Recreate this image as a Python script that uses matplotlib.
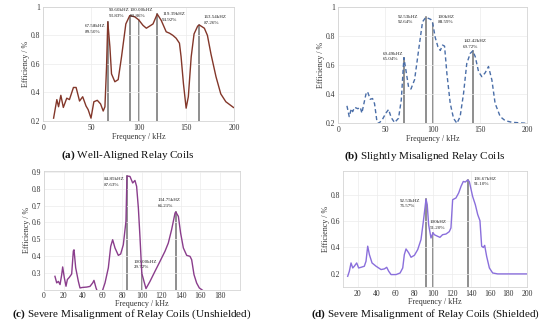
import numpy as np
import matplotlib
matplotlib.use("Agg")
import matplotlib.pyplot as plt

plt.rcParams['font.family'] = ['Liberation Serif', 'DejaVu Serif']
plt.rcParams['mathtext.fontset'] = 'custom'
plt.rcParams['mathtext.bf'] = 'Liberation Serif:bold'
plt.rcParams['mathtext.rm'] = 'Liberation Serif'

# ---- (a) well-aligned ----
fa = [10.8, 14.2, 16, 18.4, 21, 24.6, 27.4, 31.6, 34.4, 38, 41.3, 44.8, 47, 50, 53, 56.6, 60,
      62.8, 64.6, 66.3, 67.58, 69.8, 71.5, 75, 78.5, 82, 86.5, 90.6, 95.8, 100, 104.5, 108,
      111.5, 115, 119.39, 123.6, 128.8, 132.3, 135.8, 139.2, 142.7, 144.4, 146.9, 149.7, 152,
      155, 158, 161.8, 163.54, 168.8, 172, 175.7, 181, 186, 191.3, 199.3]
ea = [0.22, 0.35, 0.30, 0.38, 0.295, 0.36, 0.35, 0.435, 0.435, 0.34, 0.37, 0.305, 0.28, 0.22,
      0.335, 0.345, 0.32, 0.27, 0.30, 0.58, 0.895, 0.72, 0.53, 0.475, 0.49, 0.65, 0.88, 0.9383,
      0.93, 0.9086, 0.87, 0.85, 0.865, 0.88, 0.9492, 0.905, 0.825, 0.815, 0.80, 0.78, 0.745,
      0.65, 0.46, 0.29, 0.37, 0.65, 0.81, 0.865, 0.8726, 0.85, 0.80, 0.67, 0.51, 0.39, 0.335, 0.295]
pk_fa = [67.58, 90.60, 100.00, 119.39, 163.54]
pk_ea = [0.8950, 0.9383, 0.9086, 0.9492, 0.8726]
lab_a = ["67.58kHZ\n89.50%", "90.60kHZ\n93.83%", "100.00kHZ\n90.86%", "119.39kHZ\n94.92%", "163.54kHZ\n87.26%"]
lab_a_pos = [(43.7, 0.844), (68.3, 0.956), (90.3, 0.956), (124.6, 0.928), (168.3, 0.907)]

# ---- (b) slightly misaligned ----
fb = [9.2, 11.6, 13.8, 15.2, 17.3, 20.8, 23.3, 25, 26.8, 29.3, 31, 33.9, 36.3, 38.4, 41, 42.7,
      46.2, 50.4, 53.3, 56, 59.6, 63.8, 66.7, 69.49, 71.6, 74.4, 76.9, 80.8, 85, 89.2, 92.53,
      95.6, 98, 100, 102.6, 105.5, 108, 110.4, 112.5, 115, 118.5, 122, 125.6, 129, 132.6, 136,
      139.7, 142.42, 145, 148.5, 152, 155.5, 159, 162.6, 166, 171.4, 176.7, 183.8, 199.6]
eb = [0.32, 0.246, 0.30, 0.28, 0.31, 0.30, 0.31, 0.27, 0.325, 0.40, 0.417, 0.365, 0.37, 0.335,
      0.21, 0.20, 0.22, 0.27, 0.295, 0.24, 0.205, 0.235, 0.36, 0.6504, 0.565, 0.45, 0.435, 0.50,
      0.70, 0.897, 0.9264, 0.92, 0.913, 0.8859, 0.79, 0.725, 0.70, 0.737, 0.73, 0.54, 0.337,
      0.234, 0.20, 0.246, 0.405, 0.61, 0.68, 0.6972, 0.657, 0.554, 0.52, 0.547, 0.59, 0.497,
      0.337, 0.246, 0.218, 0.207, 0.20]
pk_fb = [69.49, 92.53, 100.0, 142.42]
pk_eb = [0.6504, 0.9264, 0.8859, 0.6972]
lab_b = ["69.49kHZ\n65.04%", "92.53kHZ\n92.64%", "100kHZ\n88.59%", "142.42kHZ\n69.72%"]
lab_b_pos = [(47.6, 0.66), (63.5, 0.912), (104.8, 0.912), (132.3, 0.743)]

# ---- (c) severe misalignment, unshielded ----
fc = [11.2, 13, 14.7, 16.4, 18.1, 19.1, 20.8, 22.5, 23.9, 25.9, 28.3, 30, 30.7, 32.4, 35.1,
      36.8, 39.5, 43.6, 47, 49.8, 51.1, 53.2, 54.5, 59, 62.4, 65.8, 68.2, 70.2, 72.6, 76, 78.4,
      81.1, 83.8, 84.85, 87.9, 90.7, 93, 94.7, 96.5, 98.2, 100, 102.2, 104.3, 108.4, 113.5,
      118.6, 123.7, 127.1, 130.5, 134, 134.75, 137.4, 139.7, 142.5, 145.9, 149.3, 151, 153.4,
      156.1, 158.8, 161.2, 163.5]
ec = [0.279, 0.24, 0.249, 0.23, 0.289, 0.335, 0.27, 0.22, 0.26, 0.273, 0.293, 0.43, 0.437,
      0.33, 0.25, 0.21, 0.213, 0.215, 0.219, 0.24, 0.255, 0.21, 0.19, 0.18, 0.24, 0.33, 0.457,
      0.497, 0.448, 0.404, 0.412, 0.467, 0.606, 0.8763, 0.874, 0.835, 0.85, 0.815, 0.686, 0.507,
      0.2972, 0.25, 0.206, 0.249, 0.309, 0.368, 0.428, 0.477, 0.557, 0.656, 0.6621, 0.636, 0.537,
      0.448, 0.404, 0.398, 0.378, 0.289, 0.239, 0.21, 0.20, 0.19]
pk_fc = [84.85, 100.0, 134.75]
pk_ec = [0.8763, 0.2972, 0.6621]
lab_c = ["84.85kHZ\n87.63%", "100.00kHZ\n29.72%", "134.75kHZ\n66.21%"]
lab_c_pos = [(61.3, 0.842), (92.0, 0.348), (115.9, 0.717)]

# ---- (d) severe misalignment, shielded ----
fd = [9.35, 11.1, 12.9, 14.7, 16.4, 18.9, 21, 23.5, 27, 28.8, 30.6, 32.4, 35.2, 39.5, 44.8,
      48.3, 50.8, 52.9, 55.4, 60.7, 65, 67.8, 69.5, 71.3, 74.1, 76.6, 80.2, 83.7, 87.2, 89.7,
      92.53, 93.8, 95.3, 97.8, 100, 101.3, 104.8, 107.3, 110.1, 113.7, 117.2, 119, 120.8, 124.3,
      127.2, 129.7, 132.1, 134.3, 136.67, 138.5, 142, 144.9, 147.4, 149.8, 151.6, 153.4, 154.8,
      156.9, 159.8, 163.3, 168.6, 200]
ed = [0.182, 0.22, 0.283, 0.245, 0.258, 0.283, 0.245, 0.25, 0.258, 0.296, 0.41, 0.346, 0.283,
      0.258, 0.233, 0.238, 0.25, 0.22, 0.195, 0.195, 0.207, 0.245, 0.346, 0.389, 0.36, 0.326,
      0.341, 0.384, 0.46, 0.598, 0.7657, 0.725, 0.573, 0.472, 0.512, 0.497, 0.485, 0.477, 0.497,
      0.502, 0.52, 0.548, 0.762, 0.775, 0.813, 0.863, 0.90, 0.896, 0.911, 0.90, 0.787, 0.724,
      0.65, 0.603, 0.41, 0.40, 0.416, 0.333, 0.245, 0.207, 0.20, 0.20]
pk_fd = [92.53, 100.0, 136.67]
pk_ed = [0.7657, 0.5120, 0.9110]
lab_d = ["92.53kHZ\n76.57%", "100kHZ\n51.20%", "136.67kHZ\n91.10%"]
lab_d_pos = [(65.0, 0.732), (96.8, 0.569), (143.5, 0.898)]

fig = plt.figure(figsize=(5.5, 3.32), dpi=100)


def panel(rect, f, e, pf, pe, labs, lpos, color, ls, xlim, ylim, xt, yt, ytl, xpad=1):
    ax = fig.add_axes(rect)
    for x, y in zip(pf, pe):
        ax.plot([x, x], [ylim[0], y], color='#707070', lw=1.1, zorder=1)
    ax.plot(f, e, color=color, lw=1.0, ls=ls, zorder=2)
    for t, (x, y) in zip(labs, lpos):
        ax.text(x, y, t, fontsize=3.6, ha='left', va='center', color='#222222', linespacing=1.5)
    ax.set_xlim(*xlim)
    ax.set_ylim(*ylim)
    ax.set_xticks(xt)
    ax.set_yticks(yt)
    ax.set_yticklabels(ytl)
    ax.grid(True, color='#ececec', lw=0.5)
    ax.tick_params(length=0, labelsize=5.5, pad=2, colors='#333333')
    for s in ax.spines.values():
        s.set_color('#d4d4d4')
        s.set_linewidth(0.6)
    ax.set_xlabel('Frequency / kHz', fontsize=5.8, labelpad=xpad, color='#333333')
    ax.set_ylabel('Efficiency / %', fontsize=5.8, labelpad=0.5, color='#333333')
    return ax


panel([0.0787, 0.6355, 0.347, 0.344], fa, ea, pk_fa, pk_ea, lab_a, lab_a_pos, '#83372a', '-',
      (0, 200), (0.2, 1.0), [0, 50, 100, 150, 200], [0.2, 0.4, 0.6, 0.8, 1.0],
      ['0.2', '0.4', '0.6', '0.8', '1'])
panel([0.615, 0.6286, 0.3436, 0.351], fb, eb, pk_fb, pk_eb, lab_b, lab_b_pos, '#4a6ea8', (0, (3, 2)),
      (0, 200), (0.2, 1.0), [0, 50, 100, 150, 200], [0.2, 0.4, 0.6, 0.8, 1.0],
      ['0.2', '0.4', '0.6', '0.8', '1'])
panel([0.08, 0.1277, 0.3556, 0.3566], fc, ec, pk_fc, pk_ec, lab_c, lab_c_pos, '#8a3d8c', '-',
      (0, 200), (0.2, 0.905), list(range(0, 181, 20)), [0.3, 0.4, 0.5, 0.6, 0.7, 0.8, 0.9],
      ['0.3', '0.4', '0.5', '0.6', '0.7', '0.8', '0.9'], xpad=-0.5)
panel([0.623, 0.1352, 0.3356, 0.35], fd, ed, pk_fd, pk_ed, lab_d, lab_d_pos, '#8a6fdc', '-',
      (4, 200), (0.1, 0.98), list(range(20, 201, 20)), [0.2, 0.4, 0.6, 0.8],
      ['0.2', '0.4', '0.6', '0.8'], xpad=0)

caps = [(128 / 550, 1 - 155 / 332, r'$\mathbf{(a)}$ Well-Aligned Relay Coils'),
        (425 / 550, 1 - 156.7 / 332, r'$\mathbf{(b)}$ Slightly Misaligned Relay Coils'),
        (132 / 550, 1 - 314 / 332, r'$\mathbf{(c)}$ Severe Misalignment of Relay Coils (Unshielded)'),
        (425 / 550, 1 - 314 / 332, r'$\mathbf{(d)}$ Severe Misalignment of Relay Coils (Shielded)')]
for x, y, t in caps:
    fig.text(x, y, t, fontsize=8, ha='center', va='center', color='#111111')

fig.savefig('out.png', dpi=100, facecolor='white')
